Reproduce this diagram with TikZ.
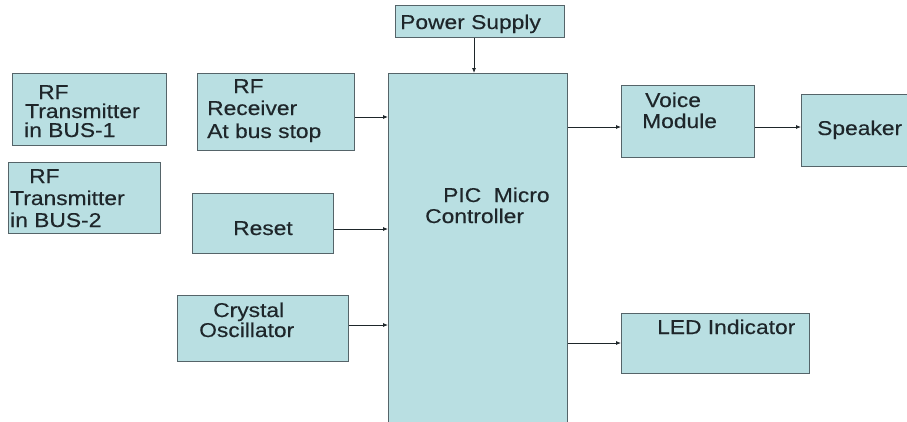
\documentclass[tikz,border=0pt]{standalone}
\usepackage{fontspec}
\setmainfont{Liberation Sans}[FakeStretch=1.14,FakeBold=0.4]
\usetikzlibrary{arrows.meta}
\definecolor{boxfill}{RGB}{185,223,226}
\definecolor{boxline}{RGB}{85,100,105}
\definecolor{txt}{RGB}{30,38,42}
\tikzset{
  blk/.style={draw=boxline, fill=boxfill, line width=1pt, anchor=north west, inner sep=0pt},
  lbl/.style={anchor=base west, inner sep=0pt, text=txt, font=\fontsize{20}{22}\selectfont},
  arr/.style={draw=txt, line width=0.8pt, -{Latex[length=5pt,width=4pt]}}
}
\begin{document}
\begin{tikzpicture}[x=1pt,y=-1pt]
\clip (0,0) rectangle (907,421);
\fill[white] (0,0) rectangle (907,421);
% boxes
\node[blk, minimum width=154, minimum height=72] (tx1) at (12,73) {};
\node[blk, minimum width=152, minimum height=71] (tx2) at (8,162) {};
\node[blk, minimum width=157, minimum height=77] (rfr) at (197,73) {};
\node[blk, minimum width=169, minimum height=32] (pwr) at (395,5) {};
\node[blk, minimum width=179, minimum height=360] (pic) at (388,73) {};
\node[blk, minimum width=133, minimum height=72] (voice) at (621,85) {};
\node[blk, minimum width=120, minimum height=72] (spk) at (801,94) {};
\node[blk, minimum width=141, minimum height=60] (rst) at (192,193) {};
\node[blk, minimum width=171, minimum height=66] (xtal) at (177,295) {};
\node[blk, minimum width=188, minimum height=60] (led) at (621,313) {};
% texts
\node[lbl] (tx1a) at (38,99) {RF};
\node[lbl] (tx1b) at (25,118) {Transmitter};
\node[lbl] (tx1c) at (24,137) {in BUS-1};
\node[lbl] (tx2a) at (29,183) {RF};
\node[lbl] (tx2b) at (10,205) {Transmitter};
\node[lbl] (tx2c) at (10,227) {in BUS-2};
\node[lbl] (rfra) at (233,93) {RF};
\node[lbl] (rfrb) at (207,115) {Receiver};
\node[lbl] (rfrc) at (207,138) {At bus stop};
\node[lbl] (pwra) at (400,29) {Power Supply};
\node[lbl] (pica) at (443,202) {PIC\ \ Micro};
\node[lbl] (picb) at (425,223) {Controller};
\node[lbl] (voicea) at (645,107) {Voice};
\node[lbl] (voiceb) at (642,128) {Module};
\node[lbl] (spka) at (817,135) {Speaker};
\node[lbl] (rsta) at (233,235) {Reset};
\node[lbl] (xtala) at (213,317) {Crystal};
\node[lbl] (xtalb) at (199,337) {Oscillator};
\node[lbl] (leda) at (657,334) {LED Indicator};
% connectors
\draw[arr] (pwr.south -| 474,0) -- (pic.north -| 474,0);
\draw[arr] (rfr.east |- 0,117) -- (pic.west |- 0,117);
\draw[arr] (rst.east |- 0,229) -- (pic.west |- 0,229);
\draw[arr] (xtal.east |- 0,325) -- (pic.west |- 0,325);
\draw[arr] (pic.east |- 0,127) -- (voice.west |- 0,127);
\draw[arr] (voice.east |- 0,127) -- (spk.west |- 0,127);
\draw[arr] (pic.east |- 0,343) -- (led.west |- 0,343);
\end{tikzpicture}
\end{document}
